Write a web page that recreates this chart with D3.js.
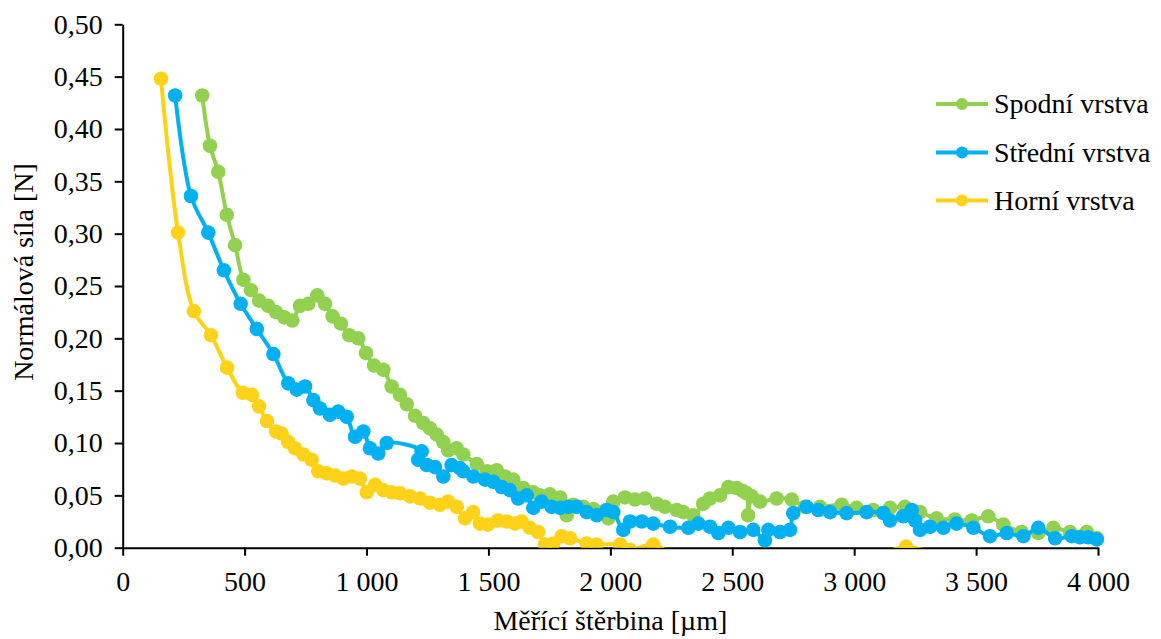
<!DOCTYPE html>
<html>
<head>
<meta charset="utf-8">
<script src="https://cdn.jsdelivr.net/npm/d3@7"></script>
<style>
  html, body { margin: 0; padding: 0; background: #fff; }
  svg { display: block; }
</style>
</head>
<body>
<svg id="chart" width="1161" height="639"></svg>
<script>
// Measured normal force vs. measuring slit, three layers
const seriesNames = ["Spodní vrstva", "Střední vrstva", "Horní vrstva"];
const seriesColors = ["#92D050", "#00B0F0", "#FFD21A"];

// [slit µm, force N]
const spodni = [
  [326,0.432],[358,0.384],[392,0.359],[427,0.318],[461,0.289],[495,0.256],[526,0.246],[560,0.236],
  [597,0.231],[629,0.225],[663,0.220],[696,0.217],[727,0.231],[761,0.233],[798,0.241],[830,0.233],
  [861,0.221],[895,0.214],[929,0.203],[966,0.200],[998,0.186],[1031,0.174],[1069,0.170],[1103,0.154],
  [1137,0.146],[1165,0.137],[1199,0.126],[1233,0.119],[1260,0.114],[1288,0.108],[1315,0.101],[1335,0.093],
  [1370,0.095],[1397,0.089],[1452,0.080],[1493,0.073],[1534,0.074],[1568,0.068],[1602,0.065],[1643,0.057],
  [1684,0.053],[1711,0.050],[1752,0.051],[1794,0.048],[1821,0.031],[1848,0.041],[1889,0.039],[1930,0.037],
  [1971,0.034],[1992,0.028],[2012,0.044],[2060,0.048],[2101,0.046],[2142,0.047],[2190,0.042],[2224,0.039],
  [2272,0.036],[2299,0.034],[2340,0.031],[2381,0.042],[2409,0.047],[2450,0.050],[2484,0.058],[2518,0.057],
  [2544,0.054],[2559,0.052],[2565,0.031],[2580,0.049],[2614,0.044],[2682,0.047],[2744,0.046],[2798,0.039],
  [2860,0.039],[2949,0.041],[3010,0.038],[3078,0.036],[3147,0.038],[3208,0.039],[3270,0.034],[3338,0.028],
  [3413,0.027],[3482,0.026],[3550,0.030],[3612,0.022],[3687,0.015],[3755,0.014],[3817,0.019],[3885,0.015],
  [3954,0.015],[3995,0.009]
];
const stredni = [
  [215,0.432],[280,0.336],[351,0.301],[415,0.265],[484,0.233],[550,0.209],[618,0.185],[679,0.157],
  [714,0.151],[748,0.154],[782,0.141],[809,0.133],[850,0.127],[884,0.130],[919,0.125],[953,0.106],
  [987,0.111],[1014,0.095],[1048,0.090],[1083,0.100],[1226,0.092],[1212,0.084],[1247,0.079],[1281,0.077],
  [1315,0.068],[1349,0.079],[1383,0.076],[1397,0.073],[1438,0.068],[1486,0.065],[1520,0.063],[1554,0.058],
  [1588,0.055],[1622,0.047],[1657,0.050],[1684,0.038],[1718,0.044],[1759,0.039],[1794,0.038],[1828,0.039],
  [1862,0.039],[1903,0.034],[1944,0.031],[1985,0.036],[2012,0.034],[2053,0.017],[2081,0.025],[2129,0.025],
  [2176,0.023],[2245,0.020],[2320,0.019],[2361,0.023],[2409,0.020],[2443,0.014],[2484,0.019],[2532,0.015],
  [2586,0.017],[2634,0.007],[2648,0.017],[2696,0.015],[2737,0.017],[2750,0.033],[2805,0.039],[2853,0.036],
  [2901,0.034],[2969,0.033],[3051,0.034],[3120,0.033],[3147,0.026],[3201,0.030],[3236,0.036],[3250,0.026],
  [3270,0.017],[3311,0.020],[3366,0.019],[3420,0.023],[3489,0.019],[3557,0.011],[3626,0.014],[3694,0.011],
  [3755,0.019],[3824,0.009],[3892,0.011],[3926,0.010],[3960,0.010],[3995,0.008]
];
const horni = [
  [157,0.448],[227,0.301],[292,0.226],[362,0.203],[428,0.172],[493,0.148],[530,0.146],[559,0.135],
  [592,0.121],[629,0.111],[652,0.109],[679,0.101],[707,0.095],[741,0.089],[775,0.084],[802,0.073],
  [837,0.071],[871,0.069],[905,0.066],[939,0.068],[973,0.066],[1001,0.053],[1035,0.060],[1069,0.055],
  [1103,0.053],[1137,0.052],[1178,0.049],[1219,0.047],[1260,0.043],[1301,0.041],[1334,0.044],[1370,0.039],
  [1404,0.028],[1437,0.034],[1465,0.023],[1498,0.022],[1539,0.026],[1575,0.025],[1609,0.023],[1636,0.025],
  [1670,0.019],[1704,0.015],[1732,0.003],[1766,0.004],[1800,0.011],[1835,0.009],[1903,0.004],[1944,0.003],
  [2040,0.003],[2081,-0.002],[2176,0.003],[2300,-0.012],[2540,-0.011],[2800,-0.012],[3050,-0.011],
  [3213,0.001],[3400,-0.011],[3600,-0.012],[3820,-0.011],[3980,-0.012]
];
const seriesData = [spodni, stredni, horni];

const xTicks = [0, 500, 1000, 1500, 2000, 2500, 3000, 3500, 4000];
const yTicks = [0, 0.05, 0.10, 0.15, 0.20, 0.25, 0.30, 0.35, 0.40, 0.45, 0.50];
const xTitle = "Měřící štěrbina [µm]";
const yTitle = "Normálová síla [N]";

const cz = d3.formatLocale({ decimal: ",", thousands: "\u00a0", grouping: [3], currency: ["", " Kč"] });
const fmtX = cz.format(",.0f");
const fmtY = cz.format(".2f");

const serif = "Liberation Serif, Times New Roman, serif";
const svg = d3.select("#chart").attr("font-family", serif);
const plotLeft = 122.7, plotRight = 1098, plotTop = 24.3, plotBottom = 547.7;
const fontSize = 28;

const x = d3.scaleLinear().domain([0, 4000]).range([plotLeft, plotRight]);
const y = d3.scaleLinear().domain([0, 0.5]).range([plotBottom, plotTop]);

svg.append("defs").append("clipPath").attr("id", "plotClip")
  .append("rect").attr("x", plotLeft - 10).attr("y", plotTop - 10)
  .attr("width", plotRight - plotLeft + 20).attr("height", plotBottom - plotTop + 10);

// axes
const gx = svg.append("g").attr("transform", `translate(0,${plotBottom})`)
  .call(d3.axisBottom(x).tickValues(xTicks).tickFormat(fmtX).tickSize(8).tickPadding(10).tickSizeOuter(0));
const gy = svg.append("g").attr("transform", `translate(${plotLeft},0)`)
  .call(d3.axisLeft(y).tickValues(yTicks).tickFormat(fmtY).tickSize(8).tickPadding(12).tickSizeOuter(0));
[gx, gy].forEach(g => {
  g.attr("font-family", serif).attr("font-size", fontSize);
  g.select(".domain").attr("stroke", "#000").attr("stroke-width", 2);
  g.selectAll(".tick line").attr("stroke", "#000").attr("stroke-width", 2);
  g.selectAll(".tick text").attr("fill", "#000");
});
gx.selectAll(".tick text").attr("dy", "0.9em");

// series
const plot = svg.append("g").attr("clip-path", "url(#plotClip)");
const line = d3.line().x(d => x(d[0])).y(d => y(d[1])).curve(d3.curveCatmullRom.alpha(0.5));
seriesData.forEach((data, i) => {
  const g = plot.append("g");
  g.append("path").attr("d", line(data)).attr("fill", "none")
    .attr("stroke", seriesColors[i]).attr("stroke-width", 4).attr("stroke-linejoin", "round");
  g.selectAll("circle").data(data).enter().append("circle")
    .attr("cx", d => x(d[0])).attr("cy", d => y(d[1])).attr("r", 7.3)
    .attr("fill", seriesColors[i]);
});

// axis titles
svg.append("text").attr("x", (plotLeft + plotRight) / 2).attr("y", 630)
  .attr("text-anchor", "middle").attr("font-family", serif).attr("font-size", fontSize).text(xTitle);
svg.append("text").attr("transform", "translate(33,272) rotate(-90)")
  .attr("text-anchor", "middle").attr("font-family", serif).attr("font-size", fontSize).text(yTitle);

// legend
const legendY = [104, 152.5, 200.5];
seriesNames.forEach((name, i) => {
  const g = svg.append("g").attr("transform", `translate(0,${legendY[i]})`);
  g.append("line").attr("x1", 936).attr("x2", 988).attr("y1", 0).attr("y2", 0)
    .attr("stroke", seriesColors[i]).attr("stroke-width", 4);
  g.append("circle").attr("cx", 962).attr("cy", 0).attr("r", 6).attr("fill", seriesColors[i]);
  g.append("text").attr("x", 994).attr("y", 0).attr("dy", "0.33em")
    .attr("font-family", serif).attr("font-size", fontSize).text(name);
});
</script>
</body>
</html>
